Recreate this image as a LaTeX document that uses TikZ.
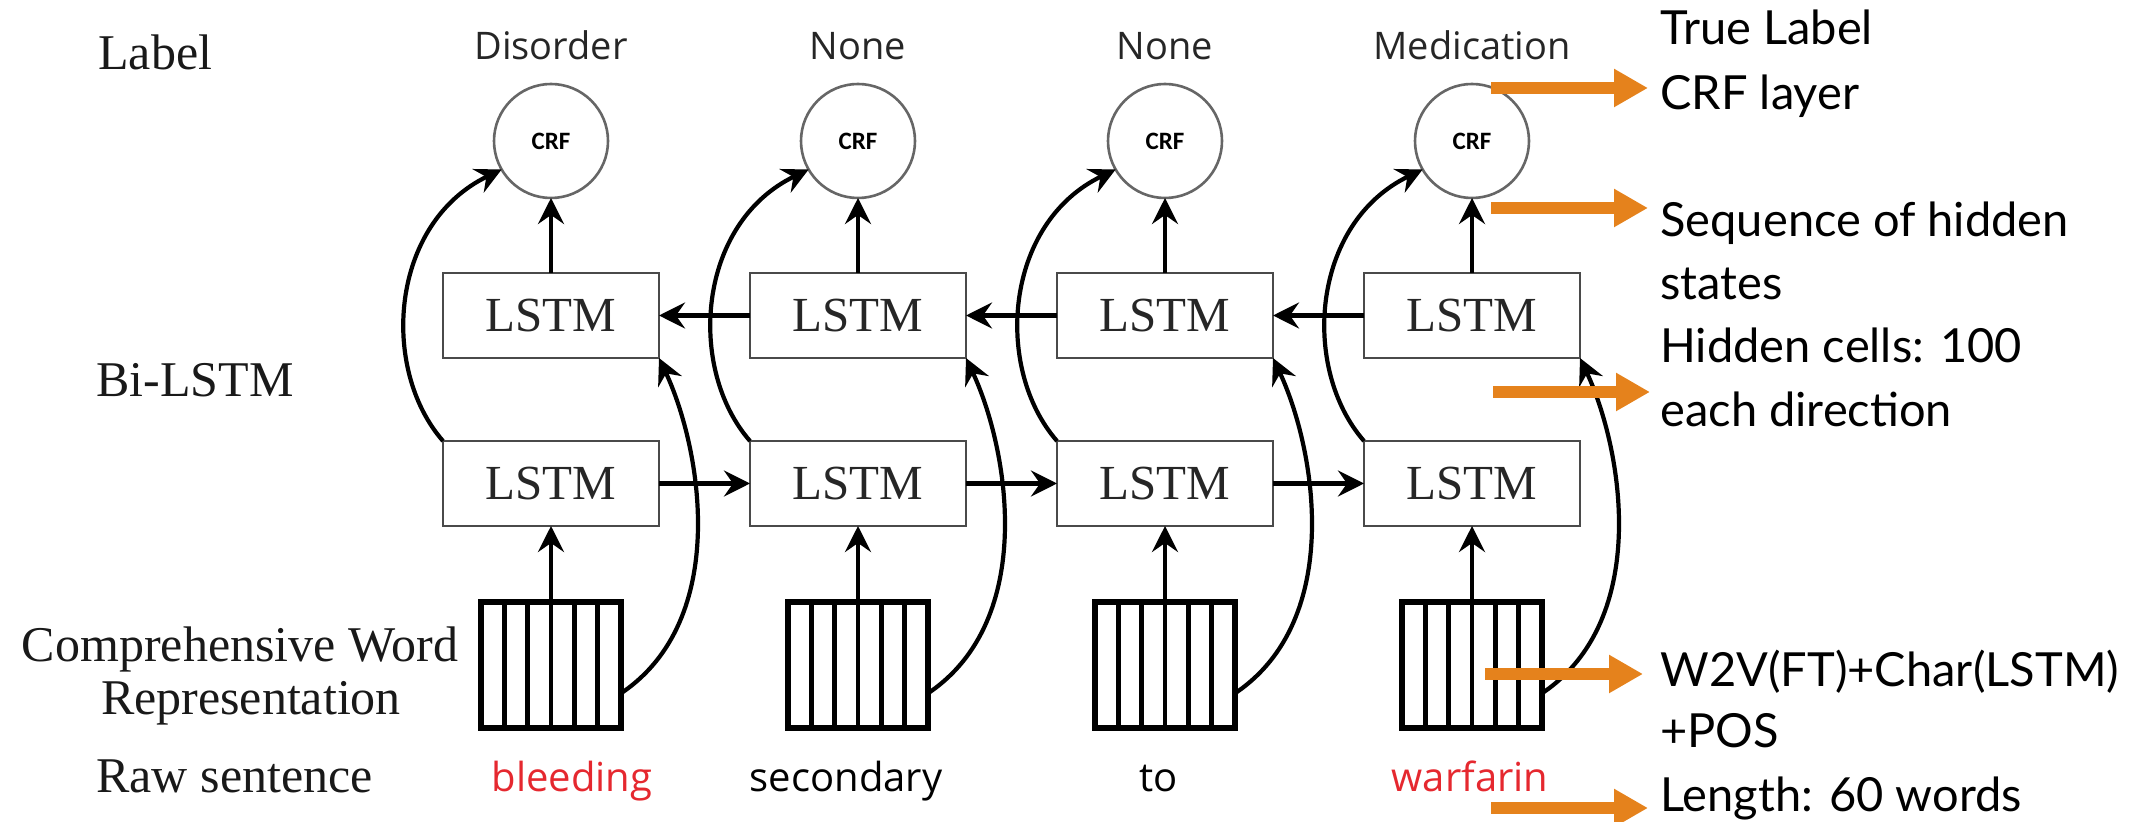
\documentclass[tikz,border=0pt]{standalone}
\usepackage{fontspec}
\setmainfont{Liberation Serif}
\newfontfamily\tagfont{Open Sans}
\newfontfamily\crffont{Carlito}
\newfontfamily\notefont{Lato}
\usetikzlibrary{arrows.meta,calc}
\definecolor{tagred}{HTML}{E5282F}
\definecolor{noteorange}{HTML}{E5821C}
\definecolor{boxgrey}{HTML}{4A4A4A}
\begin{document}
\begin{tikzpicture}[x=0.5pt,y=-0.5pt,
  txt/.style={inner sep=0pt, anchor=base west},
  rowlabel/.style={txt, font=\fontsize{25}{30}\selectfont, text=black!90},
  lstm/.style={draw=boxgrey, line width=1.4pt, minimum width=108pt, minimum height=42.5pt,
    inner sep=0pt, outer sep=0pt, font=\fontsize{24.5}{28}\selectfont, text=black!85},
  crf/.style={circle, draw=black!60, line width=1.3pt, minimum size=57pt, inner sep=0pt,
    outer sep=0pt, font=\crffont\bfseries\fontsize{12.5}{14}\selectfont},
  wordbox/.style={draw, line width=3pt, minimum width=70pt, minimum height=63pt,
    inner sep=0pt, outer sep=0pt},
  tag/.style={inner sep=0pt, anchor=base, font=\tagfont\fontsize{19}{22}\selectfont, text=black!85},
  token/.style={inner sep=0pt, anchor=base, font=\tagfont\fontsize{20}{24}\selectfont},
  note/.style={txt, font=\notefont\fontsize{23.5}{27}\selectfont},
  flow/.style={line width=2.1pt, -{Stealth[length=13pt,width=13pt,inset=4.5pt]}},
  pointer/.style={draw=noteorange, line width=6pt, line cap=butt, -{Triangle[length=17pt,width=18pt]}},
]
\useasboundingbox (0,0) rectangle (2154,822);

% row labels on the left
\node[rowlabel] (lblLabel) at (98,70) {Label};
\node[rowlabel] (lblBi) at (96,397) {Bi-LSTM};
\node[rowlabel, anchor=base] (lblComp1) at (240,662) {Comprehensive Word};
\node[rowlabel, anchor=base] (lblComp2) at (251,715) {Representation};
\node[rowlabel] (lblRaw) at (96,793) {Raw sentence};

% one column per token
\foreach \i/\x in {1/551,2/858,3/1165,4/1472} {
  \node[crf] (crf\i) at (\x,141) {CRF};
  \node[lstm] (up\i) at (\x,315.5) {LSTM};
  \node[lstm] (low\i) at (\x,483.5) {LSTM};
  \node[wordbox] (w\i) at (\x,665) {};
  \foreach \k in {1,...,5}
    \draw[line width=2.4pt] ($(w\i.north west)!\k/6!(w\i.north east)$) --
                            ($(w\i.south west)!\k/6!(w\i.south east)$);
}

% predicted tags
\node[tag] (tag1) at (551,60) {Disorder};
\node[tag] (tag2) at (858,60) {None};
\node[tag] (tag3) at (1165,60) {None};
\node[tag] (tag4) at (1472,60) {Medication};

% input tokens
\node[token, text=tagred] (tok1) at (572,792) {bleeding};
\node[token] (tok2) at (846,792) {secondary};
\node[token] (tok3) at (1159,792) {to};
\node[token, text=tagred] (tok4) at (1470,792) {warfarin};

% vertical flow and skip connections
\foreach \i in {1,...,4} {
  \draw[flow] (w\i.north) -- (low\i.south);
  \draw[flow] (up\i.north) -- (crf\i.south);
  \draw[flow] (low\i.north west) .. controls +(-63,-72) and +(-112,54) .. (crf\i.210);
  \draw[flow] (w\i.-22) .. controls +(109,-73) and +(43,92) .. (up\i.south east);
}

% forward and backward recurrences
\foreach \i/\j in {1/2,2/3,3/4} {
  \draw[flow] (low\i.east) -- (low\j.west);
  \draw[flow] (up\j.west) -- (up\i.east);
}

% annotations on the right
\node[note] (n1) at (1660,45) {True Label};
\node[note] (n2) at (1660,110) {CRF layer};
\node[note] (n3) at (1660,237) {Sequence of hidden};
\node[note] (n4) at (1660,300) {states};
\node[note] (n5) at (1660,363) {Hidden cells: 100};
\node[note] (n6) at (1660,427) {each direction};
\node[note] (n7) at (1660,687) {W2V(FT)+Char(LSTM)};
\node[note] (n8) at (1660,748) {+POS};
\node[note] (n9) at (1660,812) {Length: 60 words};

\coordinate (p1a) at (1491,88);  \coordinate (p1b) at (1648,88);
\coordinate (p2a) at (1491,208); \coordinate (p2b) at (1648,208);
\coordinate (p3a) at (1493,392); \coordinate (p3b) at (1650,392);
\coordinate (p4a) at (1485,674); \coordinate (p4b) at (1643,674);
\coordinate (p5a) at (1491,808); \coordinate (p5b) at (1648,808);
\foreach \p in {1,...,5}
  \draw[pointer] (p\p a) -- (p\p b);
\end{tikzpicture}
\end{document}
